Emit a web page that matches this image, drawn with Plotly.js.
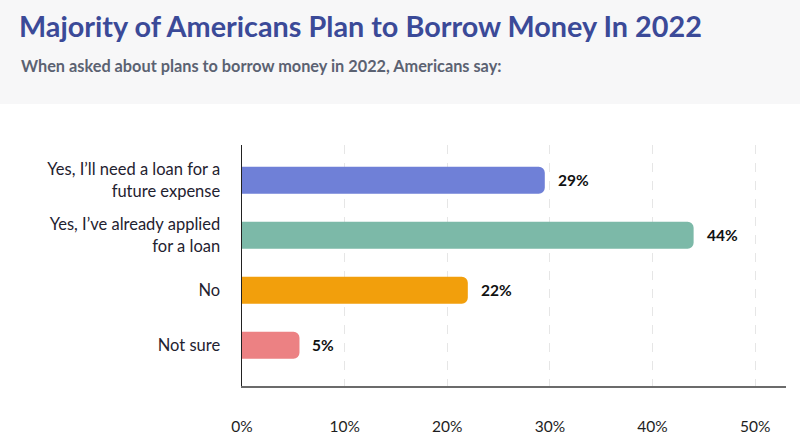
<!DOCTYPE html>
<html>
<head>
<meta charset="utf-8">
<script src="https://cdn.plot.ly/plotly-3.0.1.min.js"></script>
<style>
  html, body { margin: 0; padding: 0; background: #ffffff; }
  #chart { width: 800px; height: 441px; }
</style>
</head>
<body>
<div id="chart"></div>
<script>
// ---- data ----
const categories = [
  "Yes, I’ll need a loan for a<br>future expense",
  "Yes, I’ve already applied<br>for a loan",
  "No",
  "Not sure"
];
const values = [29.5, 44, 22, 5.6];
const valueLabels = ["29%", "44%", "22%", "5%"];
const barColors = ["#6f80d7", "#7cb9a8", "#f29f0c", "#ec8183"];
const tickVals = [0, 10, 20, 30, 40, 50];
const tickText = ["0%", "10%", "20%", "30%", "40%", "50%"];

const titleText = "Majority of Americans Plan to Borrow Money In 2022";
const subtitleText = "When asked about plans to borrow money in 2022, Americans say:";

// ---- layout constants ----
const W = 800, H = 441;
const mL = 242, mR = 14, mT = 145, mB = 55;
const plotW = W - mL - mR, plotH = H - mT - mB;
const FONT = "Lato, 'Open Sans', sans-serif";

const trace = {
  type: "bar",
  orientation: "h",
  x: values,
  y: categories,
  marker: { color: barColors, cornerradius: 6, line: { width: 0 } },
  width: 0.49,
  hoverinfo: "skip",
  cliponaxis: false
};

const annotations = values.map((v, i) => ({
  x: v, y: categories[i], xref: "x", yref: "y",
  text: "<b>" + valueLabels[i] + "</b>",
  showarrow: false, xanchor: "left", yanchor: "middle", xshift: 11,
  font: { family: FONT, size: 15.5, color: "#111111" }
}));

annotations.push({
  xref: "paper", yref: "paper",
  x: (19 - mL) / plotW, y: (H - mB - 65) / plotH,
  xanchor: "left", yanchor: "middle",
  text: "<b>" + subtitleText + "</b>",
  showarrow: false,
  font: { family: FONT, size: 16.3, color: "#5b6272" }
});

const layout = {
  width: W, height: H,
  margin: { l: mL, r: mR, t: mT, b: mB, pad: 0 },
  paper_bgcolor: "#ffffff",
  plot_bgcolor: "rgba(0,0,0,0)",
  showlegend: false,
  title: {
    text: "<b>" + titleText + "</b>",
    xref: "container", yref: "container",
    x: 19 / W, xanchor: "left",
    y: 1 - 27 / H, yanchor: "middle",
    font: { family: FONT, size: 28.8, color: "#3b4a98" }
  },
  xaxis: {
    range: [0, 53],
    tickvals: tickVals,
    ticktext: tickText,
    showgrid: true,
    gridcolor: "#e6e6e6",
    griddash: "dash",
    gridwidth: 1,
    zeroline: false,
    showline: true,
    linecolor: "#6b6b6b",
    linewidth: 2,
    ticks: "",
    ticklabelstandoff: 25,
    tickfont: { family: FONT, size: 15.5, color: "#1e1e1e" },
    fixedrange: true
  },
  yaxis: {
    type: "category",
    range: [3.74, -0.64],
    showgrid: false,
    zeroline: false,
    showline: true,
    linecolor: "#222222",
    linewidth: 1.5,
    ticks: "",
    ticklabelstandoff: 17,
    tickfont: { family: FONT, size: 16.5, color: "#1f2230" },
    fixedrange: true
  },
  shapes: [{
    type: "rect", layer: "below",
    xref: "paper", yref: "paper",
    x0: -mL / plotW, x1: 1 + mR / plotW,
    y0: (H - mB - 104) / plotH, y1: (H - mB) / plotH,
    fillcolor: "#f7f7f8", line: { width: 0 }
  }],
  annotations: annotations,
  bargap: 0.5
};

Plotly.newPlot("chart", [trace], layout, { displayModeBar: false, staticPlot: true });
</script>
</body>
</html>
